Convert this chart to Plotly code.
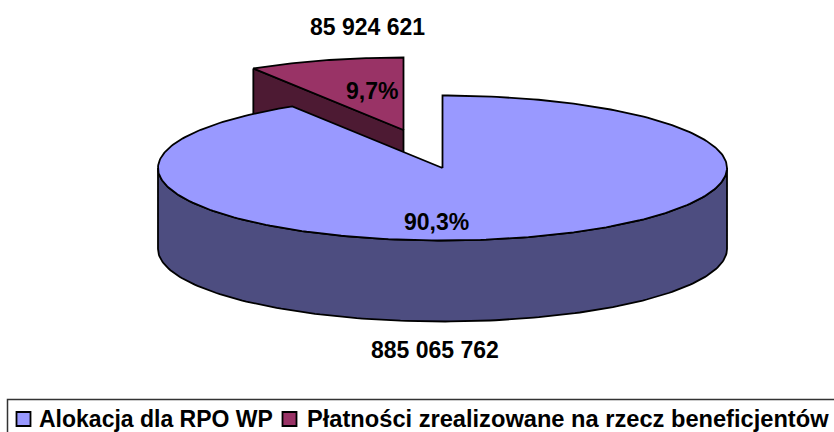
import numpy as np
import plotly.graph_objects as go

series_names = ["Alokacja dla RPO WP", "Płatności zrealizowane na rzecz beneficjentów"]
series_values = [885065762, 85924621]
value_labels = ["885 065 762", "85 924 621"]
percent_labels = ["90,3%", "9,7%"]
top_colors = ["#9999FF", "#993366"]
side_colors = ["#4D4D80", "#4D1A33"]

FONT = "Liberation Sans, Arial, sans-serif"
RX, RY, DEPTH = 284.5, 72.5, 81
CX, CY = 442.5, 168
EXPLODE = (-39, -38)
FS = 23
LEGEND_FS = [23, 23.65]
LEGEND_MARK_X = [23.5, 289.5]
LEGEND_TEXT_X = [39, 307]
LEGEND_Y = 419


def pt(theta, cx, cy):
    return cx + RX * np.sin(theta), cy - RY * np.cos(theta)


total = sum(series_values)
split = 2 * np.pi * series_values[0] / total  # clockwise from 12 o'clock

fig = go.Figure()


def poly(xs, ys, color):
    fig.add_trace(go.Scatter(x=list(xs), y=list(ys), mode="lines", fill="toself",
                             fillcolor=color, line=dict(color="black", width=1.8),
                             hoverinfo="skip", showlegend=False))


# exploded small slice
ex, ey = CX + EXPLODE[0], CY + EXPLODE[1]
lx, ly = pt(split, ex, ey)
poly([lx, ex, ex, lx, lx], [ly, ey, ey + DEPTH, ly + DEPTH, ly], side_colors[1])
t = np.linspace(split, 2 * np.pi, 60)
ax, ay = pt(t, ex, ey)
poly(np.r_[ex, ax, ex], np.r_[ey, ay, ey], top_colors[1])

# main slice wall (front half)
wx, wy = pt(np.linspace(np.pi / 2, 3 * np.pi / 2, 160), CX, CY)
poly(np.r_[wx, wx[::-1], wx[0]], np.r_[wy, wy[::-1] + DEPTH, wy[0]], side_colors[0])

# main slice top
t = np.linspace(0, split, 300)
ax, ay = pt(t, CX, CY)
poly(np.r_[CX, ax, CX], np.r_[CY, ay, CY], top_colors[0])

# legend: swatches and texts
for name, color, mx, tx, size in zip(series_names, top_colors, LEGEND_MARK_X, LEGEND_TEXT_X, LEGEND_FS):
    fig.add_trace(go.Scatter(x=[mx], y=[LEGEND_Y], mode="markers", name=name, showlegend=False,
                             hoverinfo="name",
                             marker=dict(symbol="square", size=14, color=color,
                                         line=dict(color="black", width=1.8))))
    fig.add_annotation(x=tx, y=LEGEND_Y, xanchor="left", yanchor="middle", text=f"<b>{name}</b>",
                       showarrow=False, borderpad=0, borderwidth=0,
                       font=dict(family=FONT, size=size, color="black"))

# labels
label_pos = [(435, 350), (367, 27)]
pct_pos = [(436, 222), (372, 91)]
for txt, (x, y) in zip(value_labels + percent_labels, label_pos + pct_pos):
    fig.add_annotation(x=x, y=y, text=f"<b>{txt}</b>", showarrow=False,
                       font=dict(family=FONT, size=FS, color="black"))

fig.add_shape(type="rect", x0=7.5, x1=900, y0=399.5, y1=470, line=dict(color="#333333", width=1.5),
              fillcolor="rgba(0,0,0,0)", layer="below")

fig.update_layout(
    width=834, height=432, margin=dict(l=0, r=0, t=0, b=0, autoexpand=False),
    paper_bgcolor="white", plot_bgcolor="white",
    xaxis=dict(range=[0, 834], visible=False, fixedrange=True),
    yaxis=dict(range=[432, 0], visible=False, fixedrange=True),
    showlegend=False,
)
fig.write_html("out.html", config=dict(displayModeBar=False),
               post_script="document.body.style.margin='0';document.documentElement.style.overflow='hidden';")
